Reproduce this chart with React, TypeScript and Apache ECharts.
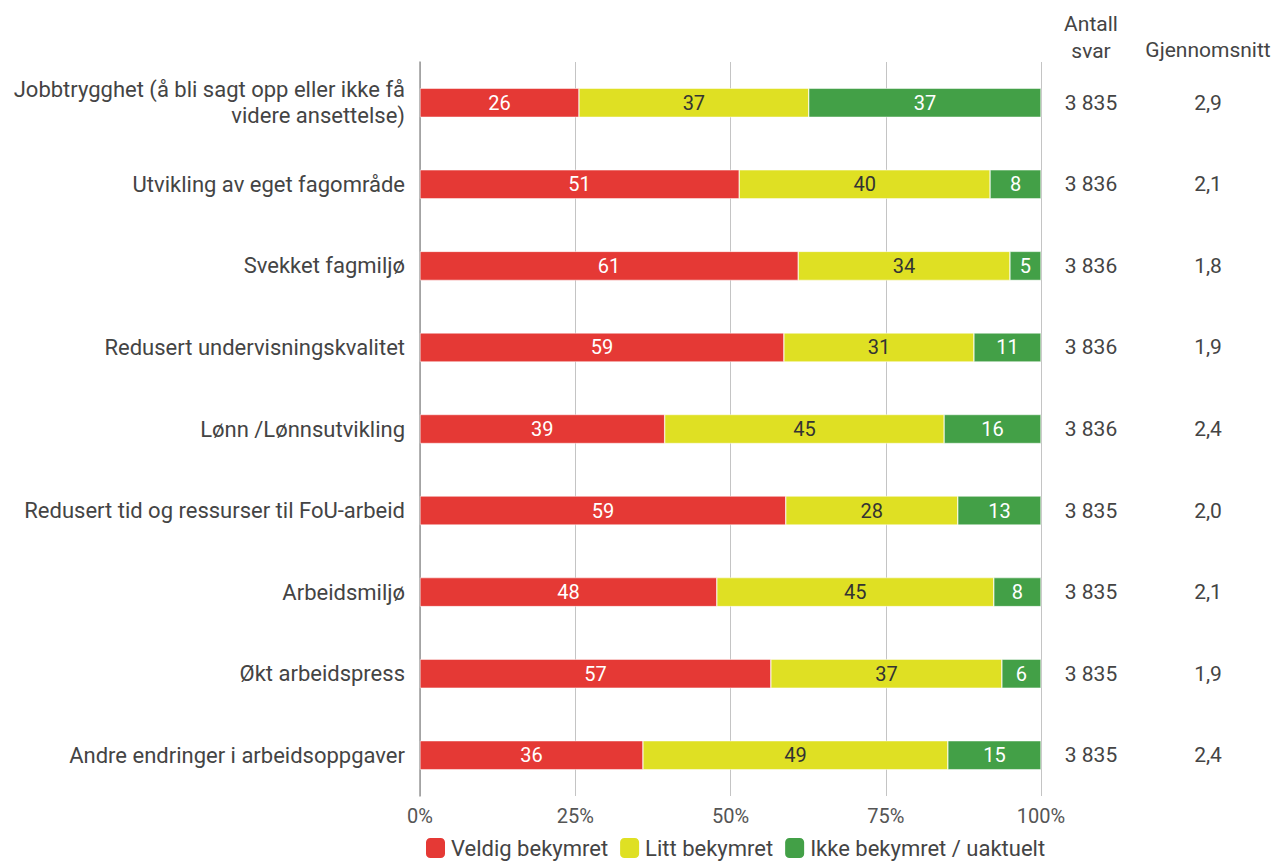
import React, { useEffect, useRef } from "react";
import * as echarts from "echarts";

const categories = [
  "Jobbtrygghet (å bli sagt opp eller ikke få\nvidere ansettelse)",
  "Utvikling av eget fagområde",
  "Svekket fagmiljø",
  "Redusert undervisningskvalitet",
  "Lønn /Lønnsutvikling",
  "Redusert tid og ressurser til FoU-arbeid",
  "Arbeidsmiljø",
  "Økt arbeidspress",
  "Andre endringer i arbeidsoppgaver",
];
const veldig = [25.6, 51.4, 60.9, 58.6, 39.4, 58.9, 47.8, 56.5, 35.9];
const litt = [37.0, 40.4, 34.1, 30.6, 45.0, 27.7, 44.6, 37.2, 49.1];
const ikke = [37.4, 8.2, 5.0, 10.8, 15.6, 13.4, 7.6, 6.3, 15.0];
const antallSvar = ["3 835", "3 836", "3 836", "3 836", "3 836", "3 835", "3 835", "3 835", "3 835"];
const snitt = ["2,9", "2,1", "1,8", "1,9", "2,4", "2,0", "2,1", "1,9", "2,4"];
const seriesNames = ["Veldig bekymret", "Litt bekymret", "Ikke bekymret / uaktuelt"];
const xTicks = ["0%", "25%", "50%", "75%", "100%"];

const FONT = "Roboto, 'Noto Sans', sans-serif";

export default function App() {
  const ref = useRef<HTMLDivElement>(null);
  useEffect(() => {
    document.body.style.margin = "0";
    const chart = echarts.init(ref.current!, null, { renderer: "svg" });
    const mk = (name: string, data: number[], color: string, labelColor: string) => ({
      name,
      type: "bar",
      stack: "total",
      barWidth: 29,
      yAxisIndex: 0,
      data,
      itemStyle: { color, borderColor: "#ffffff", borderWidth: 0.5 },
      label: {
        show: true,
        position: "inside",
        color: labelColor,
        fontSize: 20,
        fontFamily: FONT,
        formatter: (p: any) => String(Math.round(p.value)),
      },
      emphasis: { disabled: true },
    });
    chart.setOption({
      animation: false,
      textStyle: { fontFamily: FONT },
      grid: { left: 420, right: 235, top: 62, bottom: 67, containLabel: false },
      xAxis: {
        type: "value",
        min: 0,
        max: 100,
        interval: 25,
        axisLine: { show: false },
        axisTick: { show: false },
        splitLine: { show: true, lineStyle: { color: "#c4c4c4", width: 1 } },
        axisLabel: {
          fontSize: 20,
          color: "#555",
          margin: 10,
          formatter: (v: number) => xTicks[Math.round(v / 25)],
        },
      },
      yAxis: [
        {
          type: "category",
          data: categories,
          inverse: true,
          axisLine: { show: true, lineStyle: { color: "#999", width: 1.5 } },
          axisTick: { show: false },
          axisLabel: {
            fontSize: 22,
            color: "#444",
            margin: 15,
            lineHeight: 26,
            align: "right",
          },
        },
        {
          type: "category",
          data: categories,
          inverse: true,
          position: "right",
          axisLine: { show: false },
          axisTick: { show: false },
          axisLabel: {
            margin: 0,
            formatter: (_v: string, i: number) => `{a|${antallSvar[i]}}{b|${snitt[i]}}`,
            rich: {
              a: { width: 100, align: "center", fontSize: 21, color: "#444", fontFamily: FONT },
              b: { width: 134, align: "center", fontSize: 21, color: "#444", fontFamily: FONT },
            },
          },
        },
      ],
      legend: {
        left: 419,
        top: 831,
        itemWidth: 21,
        itemHeight: 22,
        itemGap: 10,
        icon: "roundRect",
        textStyle: { fontSize: 22, color: "#444" },
        data: seriesNames,
      },
      graphic: [
        {
          type: "text",
          x: 1091,
          y: 10,
          style: {
            text: "Antall\nsvar",
            fontSize: 21,
            fill: "#444",
            lineHeight: 27,
            align: "center",
            verticalAlign: "top",
            fontFamily: FONT,
          },
        },
        {
          type: "text",
          x: 1208,
          y: 50,
          style: {
            text: "Gjennomsnitt",
            fontSize: 21,
            fill: "#444",
            align: "center",
            verticalAlign: "middle",
            fontFamily: FONT,
          },
        },
      ],
      series: [
        mk(seriesNames[0], veldig, "#e53935", "#ffffff"),
        mk(seriesNames[1], litt, "#dfe023", "#333333"),
        mk(seriesNames[2], ikke, "#43a047", "#ffffff"),
      ],
    });
    return () => chart.dispose();
  }, []);
  return <div ref={ref} style={{ width: 1276, height: 863 }} />;
}
